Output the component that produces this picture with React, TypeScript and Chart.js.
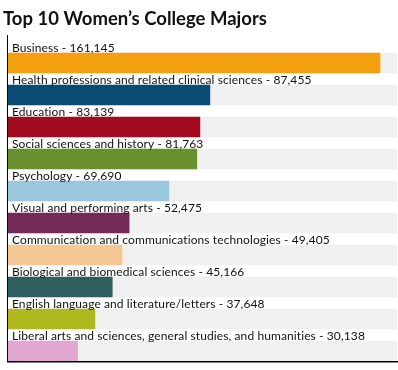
import React, { useEffect, useRef } from "react";
import { Chart, registerables } from "chart.js";

Chart.register(...registerables);

const TITLE = "Top 10 Women\u2019s College Majors";
const categories = [
  "Business",
  "Health professions and related clinical sciences",
  "Education",
  "Social sciences and history",
  "Psychology",
  "Visual and performing arts",
  "Communication and communications technologies",
  "Biological and biomedical sciences",
  "English language and literature/letters",
  "Liberal arts and sciences, general studies, and humanities",
];
const values = [161145, 87455, 83139, 81763, 69690, 52475, 49405, 45166, 37648, 30138];
const colors = [
  "#f2a00f",
  "#0b4a72",
  "#a30c20",
  "#6a8f2e",
  "#9bc7dd",
  "#742a56",
  "#f3c893",
  "#2e5f5e",
  "#b0b81f",
  "#e0a7d1",
];
const X_MAX = 168500;

const fmt = (n: number) => n.toLocaleString("en-US");

export default function App() {
  const ref = useRef<HTMLCanvasElement | null>(null);
  useEffect(() => {
    if (!ref.current) return;
    const overlay = {
      id: "overlay",
      afterDatasetsDraw(chart: any) {
        const ctx = chart.ctx;
        const area = chart.chartArea;
        const meta = chart.getDatasetMeta(0);
        ctx.save();
        ctx.fillStyle = "#111";
        ctx.font = "12px Lato";
        (ctx as any).letterSpacing = "0.1px";
        ctx.textBaseline = "alphabetic";
        ctx.textAlign = "left";
        meta.data.forEach((bar: any, i: number) => {
          const top = bar.y - bar.height / 2;
          ctx.fillText(categories[i] + " - " + fmt(values[i]), area.left + 4, top - 1.5);
        });
        (ctx as any).letterSpacing = "0px";
        // axes
        ctx.strokeStyle = "#000";
        ctx.lineWidth = 1;
        ctx.beginPath();
        ctx.moveTo(area.left - 0.5, area.top);
        ctx.lineTo(area.left - 0.5, area.bottom + 1);
        ctx.stroke();
        ctx.lineWidth = 1.5;
        ctx.beginPath();
        ctx.moveTo(area.left - 1, area.bottom + 0.75);
        ctx.lineTo(chart.width, area.bottom + 0.75);
        ctx.stroke();
        // title
        ctx.font = "bold 18.5px Lato";
        ctx.fillStyle = "#111";
        ctx.fillText(TITLE, 3, 25);
        ctx.restore();
      },
    };
    const chart = new Chart(ref.current, {
      type: "bar",
      data: {
        datasets: [
          {
            data: values.map((v, i) => ({ x: v, y: i })),
            backgroundColor: colors,
            barThickness: 20,
            grouped: false,
            order: 0,
          } as any,
          {
            data: values.map((_, i) => ({ x: X_MAX, y: i })),
            backgroundColor: "#f0f0f0",
            barThickness: 20,
            grouped: false,
            order: 1,
          } as any,
        ],
      },
      options: {
        indexAxis: "y",
        animation: false,
        responsive: false,
        maintainAspectRatio: false,
        layout: { padding: { left: 8, right: 1, top: 35, bottom: 9 } },
        plugins: { legend: { display: false }, tooltip: { enabled: false }, title: { display: false } },
        scales: {
          x: { type: "linear", display: false, min: 0, max: X_MAX, offset: false },
          y: { type: "linear", display: false, reverse: true, min: -0.875, max: 9.3125, offset: false, grid: { offset: false } },
        },
      } as any,
      plugins: [overlay],
    });
    return () => chart.destroy();
  }, []);
  return (
    <div style={{ position: "fixed", left: 0, top: 0, width: 398, height: 370, background: "#fff" }}>
      <canvas ref={ref} width={398} height={370} style={{ width: 398, height: 370 }} />
    </div>
  );
}
